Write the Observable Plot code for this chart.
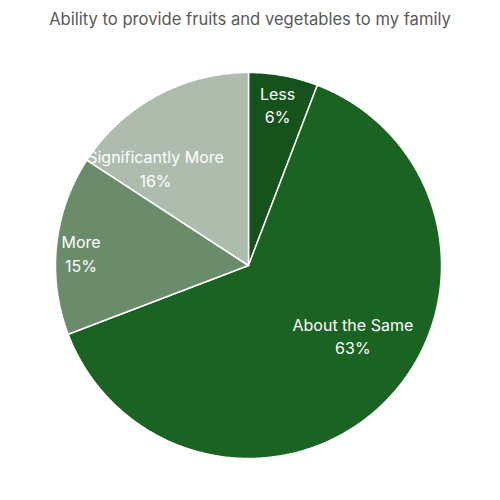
<!DOCTYPE html>
<html><head><meta charset="utf-8">
<script src="https://cdn.jsdelivr.net/npm/d3@7"></script>
<script src="https://cdn.jsdelivr.net/npm/@observablehq/plot@0.6"></script>
<style>
body{margin:0;background:#fff;font-family:Inter,"Open Sans",sans-serif;}
#title{height:36px;line-height:38px;text-align:center;font-size:16.6px;color:#595959;padding-left:0;}
</style></head>
<body>
<div id="title">Ability to provide fruits and vegetables to my family</div>
<div id="chart"></div>
<script>
const categories = ["Less", "About the Same", "More", "Significantly More"];
const shares = [5.8, 63.4, 15.0, 15.8];
const percentLabels = ["6%", "63%", "15%", "16%"];
const colors = ["#15521c", "#1b6322", "#6b8c6b", "#adbcad"];

// label placement (angle in degrees from top clockwise, radius as fraction)
const labelAngle = [10.2, 123.7, 274.4, 316.5];
const labelRadius = [0.85, 0.65, 0.87, 0.70];

const total = d3.sum(shares);
let acc = 0;
const features = categories.map((c, i) => {
  const a0 = acc / total * 2 * Math.PI;
  acc += shares[i];
  const a1 = acc / total * 2 * Math.PI;
  const n = Math.max(2, Math.ceil((a1 - a0) / 0.01));
  const ring = [[0, 0]];
  for (let k = 0; k <= n; k++) {
    const a = a0 + (a1 - a0) * k / n;
    ring.push([Math.sin(a), -Math.cos(a)]);
  }
  ring.push([0, 0]);
  return {type: "Feature", properties: {category: c}, geometry: {type: "Polygon", coordinates: [ring]}};
});

const labels = categories.map((c, i) => {
  const a = labelAngle[i] * Math.PI / 180;
  return {category: c, pct: percentLabels[i], x: Math.sin(a) * labelRadius[i], y: -Math.cos(a) * labelRadius[i]};
});

const chart = Plot.plot({
  width: 500,
  height: 464,
  marginLeft: 55, marginRight: 59, marginTop: 36, marginBottom: 42,
  projection: {type: "identity", domain: {type: "MultiPoint", coordinates: [[-1, -1], [1, 1]]}},
  color: {domain: categories, range: colors},
  style: {fontFamily: "Inter, 'Open Sans', sans-serif"},
  marks: [
    Plot.geo(features, {fill: d => d.properties.category, stroke: "white", strokeWidth: 1.5}),
    Plot.text(labels, {x: "x", y: "y", text: d => d.category + "\n" + d.pct, fill: "white", fontSize: 16, lineHeight: 1.45})
  ]
});
document.getElementById("chart").appendChild(chart);
</script>
</body></html>
